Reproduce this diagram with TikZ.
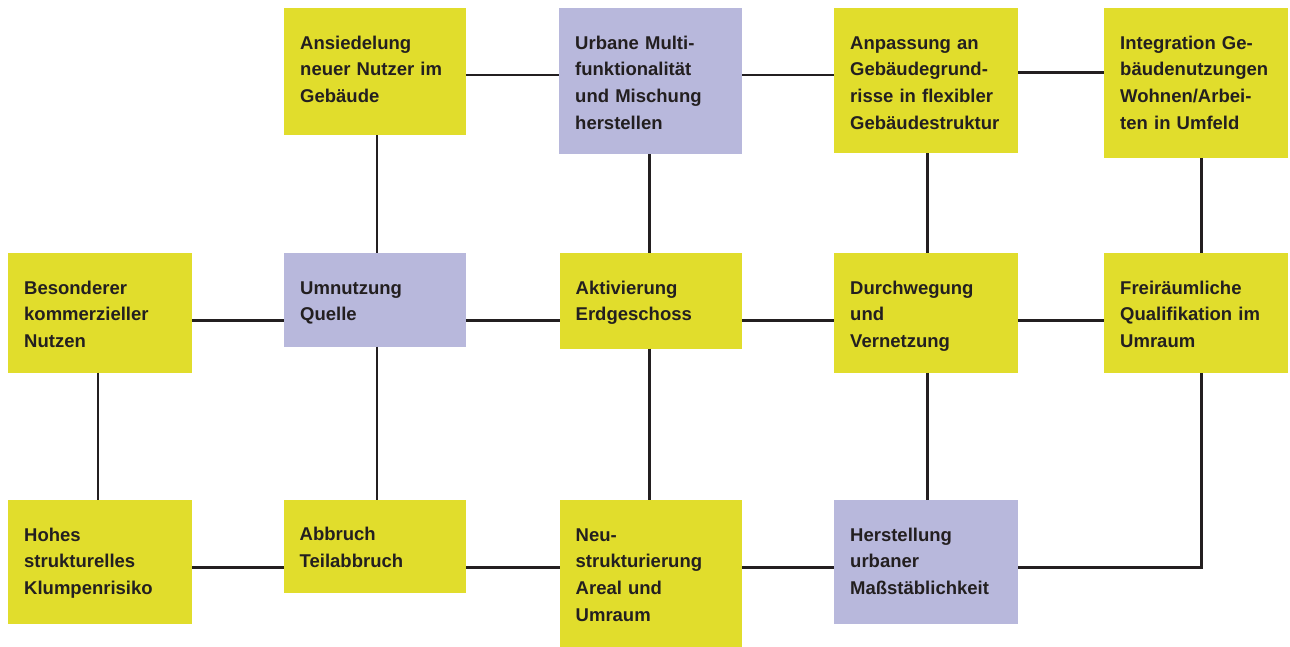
\documentclass[tikz,border=0pt]{standalone}
\usepackage{fontspec}
\setmainfont{Liberation Sans}
\definecolor{boxyellow}{HTML}{E1DD2C}
\definecolor{boxlav}{HTML}{B8B8DC}
\definecolor{ink}{HTML}{231F20}
\newcommand\mkbox[7]{%
  \node[boxshape, fill=#6, minimum width={(#4-#2)*1pt}, minimum height={(#5-#3)*1pt}, anchor=north west] (#1) at (#2,#3) {};
  \node[boxtext] at ([xshift=16pt,yshift=-26pt]#1.north west) {\rule{0pt}{15pt}#7};
}
\begin{document}
\begin{tikzpicture}[x=1pt,y=-1pt,
  boxshape/.style={draw=none, inner sep=0pt, outer sep=0pt, rectangle},
  boxtext/.style={anchor=north west, inner sep=0pt, align=left, text width=165pt, text=ink,
    font=\fontsize{18.5pt}{26.7pt}\selectfont\bfseries},
  link/.style={draw=ink, line width=2.4pt}]
\useasboundingbox (0,0) rectangle (1290,647);
% row 1
\mkbox{ans}{284}{8}{466}{135.5}{boxyellow}{Ansiedelung\\neuer Nutzer im\\Gebäude}
\mkbox{urb}{559}{8}{742}{154.5}{boxlav}{Urbane Multi-\\funktionalität\\und Mischung\\herstellen}
\mkbox{anp}{834}{8}{1018}{153.5}{boxyellow}{Anpassung an\\Gebäudegrund-\\risse in flexibler\\Gebäudestruktur}
\mkbox{int}{1104}{8}{1288}{158.5}{boxyellow}{Integration Ge-\\bäudenutzungen\\Wohnen/Arbei-\\ten in Umfeld}
% row 2
\mkbox{bes}{8}{253}{192}{372.5}{boxyellow}{Besonderer\\kommerzieller\\Nutzen}
\mkbox{umn}{284}{253}{466}{346.5}{boxlav}{Umnutzung\\Quelle}
\mkbox{akt}{559.5}{253}{742}{348.5}{boxyellow}{Aktivierung\\Erdgeschoss}
\mkbox{dur}{834}{253}{1018}{372.5}{boxyellow}{Durchwegung\\und\\Vernetzung}
\mkbox{fre}{1104}{253}{1288}{372.5}{boxyellow}{Freiräumliche\\Qualifikation im\\Umraum}
% row 3
\mkbox{hoh}{8}{500}{192}{623.5}{boxyellow}{Hohes\\strukturelles\\Klumpenrisiko}
\mkbox{abb}{283.5}{499.5}{466}{592.5}{boxyellow}{Abbruch\\Teilabbruch}
\mkbox{neu}{559.5}{500}{742}{646.5}{boxyellow}{Neu-\\strukturierung\\Areal und\\Umraum}
\mkbox{her}{834}{500}{1018}{623.5}{boxlav}{Herstellung\\urbaner\\Maßstäblichkeit}
% connector levels
\coordinate (ra) at (0,75.3);
\coordinate (rb) at (0,72.7);
\coordinate (r2) at (0,320.3);
\coordinate (r3) at (0,567.3);
\coordinate (c1) at (98,0);
\coordinate (c2) at (377,0);
\coordinate (c3) at (649.5,0);
\coordinate (c4) at (927.5,0);
\coordinate (c5) at (1201.5,0);
% horizontal links
\draw[link] (ans.east |- ra) -- (urb.west |- ra);
\draw[link] (urb.east |- ra) -- (anp.west |- ra);
\draw[link] (anp.east |- rb) -- (int.west |- rb);
\draw[link] (bes.east |- r2) -- (umn.west |- r2);
\draw[link] (umn.east |- r2) -- (akt.west |- r2);
\draw[link] (akt.east |- r2) -- (dur.west |- r2);
\draw[link] (dur.east |- r2) -- (fre.west |- r2);
\draw[link] (hoh.east |- r3) -- (abb.west |- r3);
\draw[link] (abb.east |- r3) -- (neu.west |- r3);
\draw[link] (neu.east |- r3) -- (her.west |- r3);
% vertical links
\draw[link] (ans.south -| c2) -- (umn.north -| c2);
\draw[link] (urb.south -| c3) -- (akt.north -| c3);
\draw[link] (anp.south -| c4) -- (dur.north -| c4);
\draw[link] (int.south -| c5) -- (fre.north -| c5);
\draw[link] (bes.south -| c1) -- (hoh.north -| c1);
\draw[link] (umn.south -| c2) -- (abb.north -| c2);
\draw[link] (akt.south -| c3) -- (neu.north -| c3);
\draw[link] (dur.south -| c4) -- (her.north -| c4);
% elbow
\draw[link, line join=miter] (her.east |- r3) -| (fre.south -| c5);
\end{tikzpicture}
\end{document}
